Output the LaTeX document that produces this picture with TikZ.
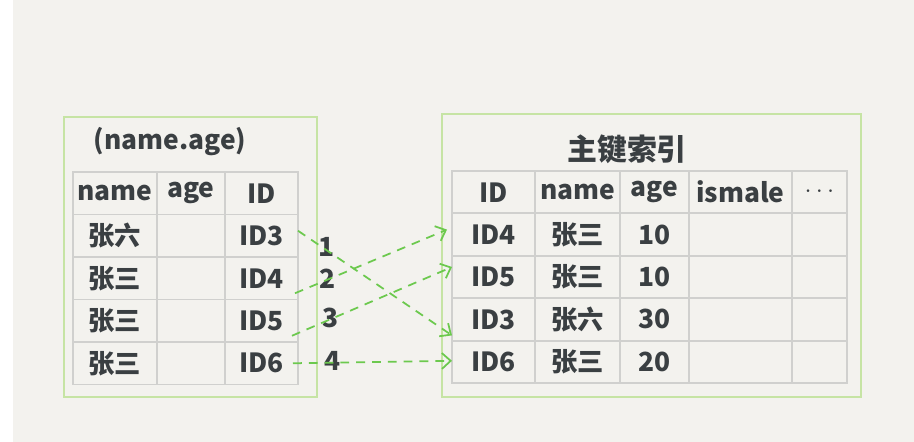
\documentclass[tikz,border=0pt]{standalone}
\usepackage{fontspec}
\setmainfont{Noto Sans CJK SC}
\usepackage{xcolor}
\usetikzlibrary{positioning, calc, arrows.meta}

\definecolor{paper}{HTML}{F3F2EE}
\definecolor{boxgreen}{HTML}{C6E4A4}
\definecolor{arrowgreen}{HTML}{6CC94E}
\definecolor{gridgray}{HTML}{D0D0CE}
\definecolor{ink}{HTML}{3A3F42}

\begin{document}
\begin{tikzpicture}[x=0.02cm, y=-0.02cm,
    % estilos das tabelas
    cell/.style={rectangle, draw=gridgray, line width=1.1pt, inner sep=0pt, outer sep=0pt, minimum height=0.85cm, text=ink, font=\fontsize{15}{15}\selectfont\bfseries},
    tablebox/.style={draw=boxgreen, line width=1.2pt},
    title/.style={text=ink, font=\fontsize{17}{17}\selectfont\bfseries},
    numlabel/.style={text=ink, font=\fontsize{15}{15}\selectfont\bfseries},
    linkarrow/.style={draw=arrowgreen, line width=1pt, dash pattern=on 5pt off 4pt, -{Straight Barb[length=5pt, width=9pt]}}
]

% fundo
\useasboundingbox (0,0) rectangle (914,442);
\fill[white] (0,0) rectangle (914,442);
\fill[paper] (13,0) rectangle (914,442);

% ==========================
% COLUNAS E LINHAS
% ==========================
\def\LA{115}   \def\LAw{1.68cm}
\def\LB{191}   \def\LBw{1.36cm}
\def\LC{261.5} \def\LCw{1.46cm}
\def\RA{493.5} \def\RAw{1.66cm}
\def\RB{577.5} \def\RBw{1.70cm}
\def\RC{654.5} \def\RCw{1.38cm}
\def\RD{740.5} \def\RDw{2.06cm}
\def\RE{819.5} \def\REw{1.10cm}

% ==========================
% CAIXAS
% ==========================
\draw[tablebox] (64,117) rectangle (317,397);
\node[title, font=\fontsize{15}{15}\selectfont\bfseries] (ltitle) at (170,142) {(name.age)};

\draw[tablebox] (442,114) rectangle (861,397);
\node[title] (rtitle) at (627,149) {主键索引};

% ==========================
% TABELA ESQUERDA (name, age, ID)
% ==========================
\node[cell, minimum width=\LAw] (l_h1) at (\LA, 193.25) {name};
\node[cell, minimum width=\LBw] (l_h2) at (\LB, 193.25) {age};
\node[cell, minimum width=\LCw] (l_h3) at (\LC, 193.25) {ID};

\node[cell, minimum width=\LAw] (l_n3) at (\LA, 235.75) {张六};
\node[cell, minimum width=\LAw] (l_n4) at (\LA, 278.25) {张三};
\node[cell, minimum width=\LAw] (l_n5) at (\LA, 320.75) {张三};
\node[cell, minimum width=\LAw] (l_n6) at (\LA, 363.25) {张三};

\foreach \i/\y in {3/235.75, 4/278.25, 5/320.75, 6/363.25} {
    \node[cell, minimum width=\LBw] (l_a\i) at (\LB, \y) {};
    \node[cell, minimum width=\LCw] (l_id\i) at (\LC, \y) {ID\i};
}

% ==========================
% TABELA DIREITA (indice primario)
% ==========================
\node[cell, minimum width=\RAw] (r_h1) at (\RA, 192.2) {ID};
\node[cell, minimum width=\RBw] (r_h2) at (\RB, 192.2) {name};
\node[cell, minimum width=\RCw] (r_h3) at (\RC, 192.2) {age};
\node[cell, minimum width=\RDw] (r_h4) at (\RD, 192.2) {ismale};
\node[cell, minimum width=\REw] (r_h5) at (\RE, 192.2) {$\cdots$};

\foreach \i/\n/\a/\y in {4/张三/10/234.6, 5/张三/10/277.0, 3/张六/30/319.4, 6/张三/20/361.8} {
    \node[cell, minimum width=\RAw] (r_id\i) at (\RA, \y) {ID\i};
    \node[cell, minimum width=\RBw] (r_n\i) at (\RB, \y) {\n};
    \node[cell, minimum width=\RCw] (r_a\i) at (\RC, \y) {\a};
    \node[cell, minimum width=\RDw] (r_m\i) at (\RD, \y) {};
    \node[cell, minimum width=\REw] (r_x\i) at (\RE, \y) {};
}

% ==========================
% LIGACOES (ordem de leitura)
% ==========================
\node[numlabel] (num1) at (327,247) {1};
\node[numlabel] (num2) at (328,279) {2};
\node[numlabel] (num3) at (331,318) {3};
\node[numlabel] (num4) at (333,361) {4};

\draw[linkarrow] ($(l_id3.east)+(0,-5)$) -- ($(r_id3.west)+(0,16)$);
\draw[linkarrow] ($(l_id4.east)+(-3,15)$) -- ($(r_id4.west)+(-5,-5)$);
\draw[linkarrow] ($(l_id5.east)+(-6,15)$) -- ($(r_id5.west)+(0,-10)$);
\draw[linkarrow] ($(l_id6.east)+(-5,0)$) -- ($(r_id6.west)+(0,-1)$);

\end{tikzpicture}
\end{document}
